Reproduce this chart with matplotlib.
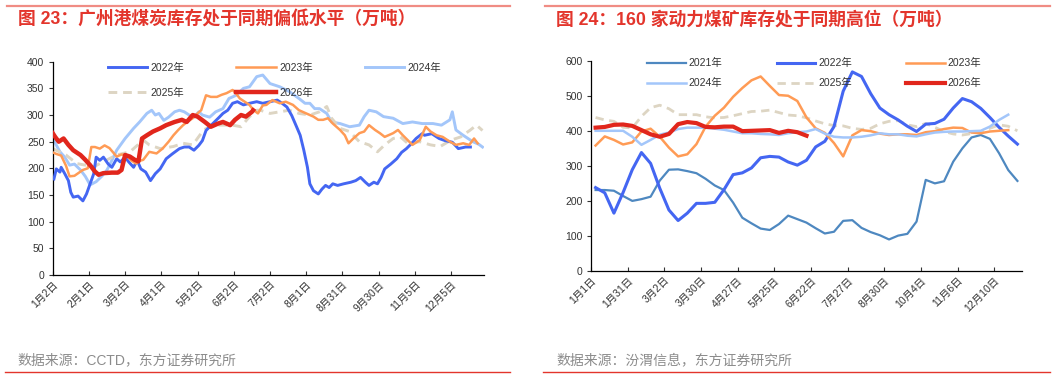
import matplotlib
matplotlib.use('Agg')
import matplotlib.pyplot as plt
from matplotlib.lines import Line2D

plt.rcParams['font.family'] = ['Liberation Sans', 'Noto Sans CJK SC', 'DejaVu Sans']
plt.rcParams['axes.unicode_minus'] = False

# ---------------- left: 广州港煤炭库存 (daily, index from 1月2日)
left_ticks = ['1月2日', '2月1日', '3月2日', '4月1日', '5月2日', '6月2日',
              '7月2日', '8月1日', '8月31日', '9月30日', '11月5日', '12月5日']
n_days = 357

d22 = [1, 3, 6, 7, 10, 13, 15, 17, 21, 25, 28, 31, 34, 36, 39, 42, 46, 49, 53, 56,
       60, 63, 67, 70, 73, 77, 81, 85, 89, 94, 99, 105, 109, 113, 117, 121, 124, 127, 130, 134,
       138, 141, 145, 149, 153, 158, 163, 169, 174, 180, 186, 190, 194, 198, 202, 205, 208, 211, 213, 216,
       220, 223, 226, 229, 232, 236, 241, 247, 251, 255, 259, 262, 266, 269, 272, 275, 280, 285, 289, 293,
       297, 301, 306, 308, 314, 320, 325, 331, 336, 342, 346]
v22 = [180, 199, 193, 202, 190, 177, 155, 146, 148, 139, 152, 171, 190, 221, 215, 221, 208, 202, 218, 212,
       221, 212, 202, 215, 199, 193, 177, 190, 199, 218, 227, 237, 240, 240, 234, 243, 252, 271, 278, 287,
       296, 303, 309, 322, 325, 319, 322, 325, 322, 325, 328, 322, 315, 299, 278, 262, 234, 202, 171, 158,
       152, 161, 168, 164, 171, 168, 171, 174, 177, 183, 174, 168, 174, 171, 183, 199, 208, 218, 230, 237,
       246, 256, 265, 262, 265, 256, 252, 249, 237, 240, 240]

d23 = [0, 3, 7, 11, 14, 18, 25, 29, 32, 35, 39, 43, 47, 53, 57, 61, 65, 69, 72, 75,
       80, 86, 91, 96, 100, 104, 108, 112, 116, 120, 123, 127, 131, 136, 140, 144, 149, 152, 155, 159,
       163, 166, 170, 174, 177, 182, 188, 193, 199, 204, 210, 216, 220, 224, 228, 232, 238, 242, 245, 249,
       254, 258, 262, 267, 271, 275, 282, 286, 290, 294, 298, 304, 309, 313, 318, 323, 329, 334, 340, 345,
       349, 352]
v23 = [230, 227, 224, 205, 185, 186, 197, 200, 240, 240, 237, 243, 238, 222, 226, 225, 215, 209, 214, 216,
       231, 228, 237, 250, 262, 272, 281, 288, 294, 303, 309, 337, 334, 334, 338, 341, 347, 340, 331, 325,
       319, 310, 303, 318, 319, 328, 322, 325, 319, 309, 303, 297, 291, 291, 294, 284, 272, 262, 247, 256,
       266, 269, 281, 272, 266, 259, 266, 272, 262, 253, 244, 253, 278, 269, 262, 259, 250, 244, 247, 244,
       256, 247]

d24 = [0, 6, 10, 14, 18, 23, 27, 31, 36, 41, 45, 49, 53, 60, 67, 72, 78, 82, 85, 88,
       92, 96, 101, 105, 109, 113, 117, 121, 124, 130, 135, 141, 146, 152, 158, 163, 169, 174, 180, 188,
       196, 204, 209, 213, 217, 221, 227, 231, 238, 246, 254, 258, 262, 268, 274, 282, 290, 298, 306, 315,
       322, 329, 331, 334, 340, 348, 353, 356]
v24 = [256, 231, 221, 206, 208, 197, 185, 169, 175, 186, 197, 215, 234, 256, 275, 287, 303, 309, 300, 303,
       290, 296, 306, 309, 306, 300, 296, 306, 300, 296, 306, 312, 331, 337, 350, 353, 372, 375, 359, 353,
       344, 331, 322, 322, 312, 312, 303, 287, 284, 278, 281, 297, 309, 306, 297, 294, 284, 287, 284, 284,
       281, 291, 306, 272, 262, 250, 245, 240]

d25 = [0, 11, 20, 34, 45, 53, 64, 75, 80, 89, 100, 108, 116, 125, 130, 138, 149, 156, 163, 169,
       172, 180, 188, 196, 204, 213, 221, 227, 231, 238, 246, 254, 262, 269, 275, 282, 288, 294, 304, 313,
       321, 330, 338, 346, 351, 356]
v25 = [237, 225, 209, 203, 216, 225, 231, 253, 244, 237, 241, 247, 244, 272, 278, 281, 281, 278, 297, 309,
       309, 303, 306, 309, 303, 300, 306, 316, 294, 275, 269, 250, 244, 231, 244, 256, 259, 247, 250, 244,
       241, 253, 259, 272, 281, 271]

d26 = [0, 2, 5, 9, 13, 17, 23, 27, 31, 35, 38, 42, 49, 54, 57, 60, 64, 68, 71, 74,
       78, 83, 89, 94, 101, 107, 111, 116, 120, 126, 131, 137, 141, 147, 151, 156, 160, 165, 166]
v26 = [266, 259, 250, 256, 244, 234, 225, 216, 206, 194, 188, 191, 192, 192, 197, 225, 222, 216, 213, 256,
       262, 269, 275, 281, 287, 291, 287, 300, 297, 287, 278, 284, 287, 281, 291, 300, 297, 306, 309]

# ---------------- right: 160家动力煤矿库存 (weekly)
right_ticks = ['1月1日', '1月31日', '3月2日', '3月30日', '4月27日', '5月25日',
               '6月22日', '7月27日', '8月30日', '10月4日', '11月6日', '12月10日']
n_weeks = 47

r21 = [231, 231, 229, 214, 200, 205, 212, 258, 289, 290, 285, 279, 263, 244, 231, 195, 152, 136, 121, 117,
       134, 158, 148, 138, 122, 107, 112, 143, 145, 123, 111, 102, 90, 101, 106, 141, 260, 250, 256, 312,
       350, 381, 388, 377, 336, 288, 257]
r22 = [238, 223, 165, 224, 289, 338, 307, 236, 174, 144, 165, 193, 193, 196, 232, 275, 280, 294, 323, 327,
       325, 311, 302, 316, 354, 370, 412, 513, 568, 555, 506, 465, 446, 431, 413, 398, 419, 421, 433, 465,
       492, 483, 464, 438, 410, 385, 362]
r23 = [358, 384, 374, 361, 367, 398, 406, 383, 352, 327, 333, 362, 412, 443, 466, 497, 522, 544, 555, 528,
       502, 500, 485, 438, 407, 394, 365, 327, 387, 402, 399, 392, 388, 390, 390, 388, 396, 399, 405, 409,
       408, 395, 393, 398, 400, 402]
r24 = [400, 400, 400, 400, 383, 360, 374, 389, 395, 405, 409, 409, 409, 406, 403, 398, 393, 393, 391, 390,
       388, 393, 396, 398, 405, 392, 383, 381, 381, 383, 387, 393, 390, 390, 386, 384, 390, 395, 397, 398,
       398, 399, 400, 412, 431, 446]
r25 = [438, 431, 427, 410, 408, 441, 466, 473, 463, 446, 446, 446, 440, 437, 438, 443, 449, 455, 456, 459,
       452, 445, 443, 437, 428, 420, 415, 414, 407, 404, 407, 420, 427, 429, 417, 412, 421, 410, 398, 391,
       388, 392, 397, 407, 417, 413, 400]
r26 = [409, 411, 417, 418, 414, 402, 390, 383, 391, 419, 425, 422, 411, 410, 412, 412, 399, 400, 401, 402,
       394, 400, 396, 386]

C21 = '#4E88C0'
C22 = '#4466F2'
C23 = '#FF9B55'
C24 = '#A3C6FA'
C25 = '#DDD5C3'
C26 = '#E1261C'
TXT = '#333333'

fig = plt.figure(figsize=(10.61, 3.79), dpi=100)


def style_axes(ax):
    for s in ['top', 'right']:
        ax.spines[s].set_visible(False)
    for s in ['left', 'bottom']:
        ax.spines[s].set_color('black')
        ax.spines[s].set_linewidth(0.9)
    ax.tick_params(axis='y', direction='out', length=3, width=0.8, labelsize=7.5,
                   colors=TXT, pad=3)
    ax.tick_params(axis='x', direction='in', length=3, width=0.8, labelsize=7.5,
                   colors=TXT, pad=3)
    for lab in ax.get_xticklabels():
        lab.set_rotation(45)
        lab.set_ha('right')
        lab.set_va('top')
        lab.set_rotation_mode('anchor')


# ---- left chart
ax1 = fig.add_axes([52.7 / 1061, 1 - 275 / 379, 431 / 1061, 213.3 / 379])
ax1.plot(d22, v22, color=C22, lw=2.1, label='2022年', zorder=3)
ax1.plot(d23, v23, color=C23, lw=1.8, label='2023年', zorder=3)
ax1.plot(d24, v24, color=C24, lw=2.1, label='2024年', zorder=2)
ax1.plot(d25, v25, color=C25, lw=2.1, ls=(0, (3, 2)), label='2025年', zorder=2)
ax1.plot(d26, v26, color=C26, lw=3.2, label='2026年', zorder=5)
ax1.set_xlim(0, n_days)
ax1.set_ylim(0, 400)
ax1.set_yticks(range(0, 401, 50))
ax1.set_xticks(range(0, 30 * len(left_ticks), 30))
ax1.set_xticklabels(left_ticks)
style_axes(ax1)
h, l = ax1.get_legend_handles_labels()
order = [0, 3, 1, 4, 2]
ax1.legend([h[i] for i in order], [l[i] for i in order], ncol=3, frameon=False,
           loc='upper left', bbox_to_anchor=(0.128, 0.995), fontsize=7.5,
           handlelength=3.8, handletextpad=0.3, columnspacing=5.0,
           labelspacing=1.45, borderpad=0, borderaxespad=0, labelcolor=TXT)

# ---- right chart
ax2 = fig.add_axes([591 / 1061, 1 - 271 / 379, 431 / 1061, 210.3 / 379])
ax2.plot(range(len(r21)), r21, color=C21, lw=1.6, label='2021年', zorder=2)
ax2.plot(range(len(r22)), r22, color=C22, lw=2.2, label='2022年', zorder=3)
ax2.plot(range(len(r23)), r23, color=C23, lw=1.8, label='2023年', zorder=3)
ax2.plot(range(len(r24)), r24, color=C24, lw=1.8, label='2024年', zorder=3)
ax2.plot(range(len(r25)), r25, color=C25, lw=2.0, ls=(0, (3, 2)), label='2025年', zorder=2)
ax2.plot(range(len(r26)), r26, color=C26, lw=3.0, label='2026年', zorder=5)
ax2.set_xlim(-0.5, n_weeks - 0.5)
ax2.set_ylim(0, 600)
ax2.set_yticks(range(0, 601, 100))
ax2.set_xticks([-0.5 + 4 * j for j in range(len(right_ticks))])
ax2.set_xticklabels(right_ticks)
style_axes(ax2)
h, l = ax2.get_legend_handles_labels()
order = [0, 3, 1, 4, 2, 5]
ax2.legend([h[i] for i in order], [l[i] for i in order], ncol=3, frameon=False,
           loc='upper left', bbox_to_anchor=(0.13, 1.012), fontsize=7.5,
           handlelength=3.7, handletextpad=0.3, columnspacing=5.2,
           labelspacing=0.95, borderpad=0, borderaxespad=0, labelcolor=TXT)

# ---- titles, rules, sources
RED = '#E3352C'
fig.add_artist(Line2D([7 / 1061, 510 / 1061], [1 - 5.7 / 379] * 2, color='#F08C84', lw=1.6))
fig.add_artist(Line2D([545 / 1061, 1050 / 1061], [1 - 5.7 / 379] * 2, color='#F08C84', lw=1.6))
fig.add_artist(Line2D([5 / 1061, 510 / 1061], [1 - 372 / 379] * 2, color=RED, lw=1.0))
fig.add_artist(Line2D([543 / 1061, 1050 / 1061], [1 - 372 / 379] * 2, color=RED, lw=1.0))

fig.text(18 / 1061, 1 - 19.5 / 379, '图 23：广州港煤炭库存处于同期偏低水平（万吨）',
         color=RED, fontsize=12.8, fontweight='bold', va='center', ha='left')
fig.text(556.5 / 1061, 1 - 19.5 / 379, '图 24：160 家动力煤矿库存处于同期高位（万吨）',
         color=RED, fontsize=12.8, fontweight='bold', va='center', ha='left')
fig.text(17.5 / 1061, 1 - 360.5 / 379, '数据来源：CCTD，东方证券研究所',
         color='#8C8C8C', fontsize=10, va='center', ha='left')
fig.text(556 / 1061, 1 - 360.5 / 379, '数据来源：汾渭信息，东方证券研究所',
         color='#8C8C8C', fontsize=10, va='center', ha='left')

fig.savefig('out.png', dpi=100)
